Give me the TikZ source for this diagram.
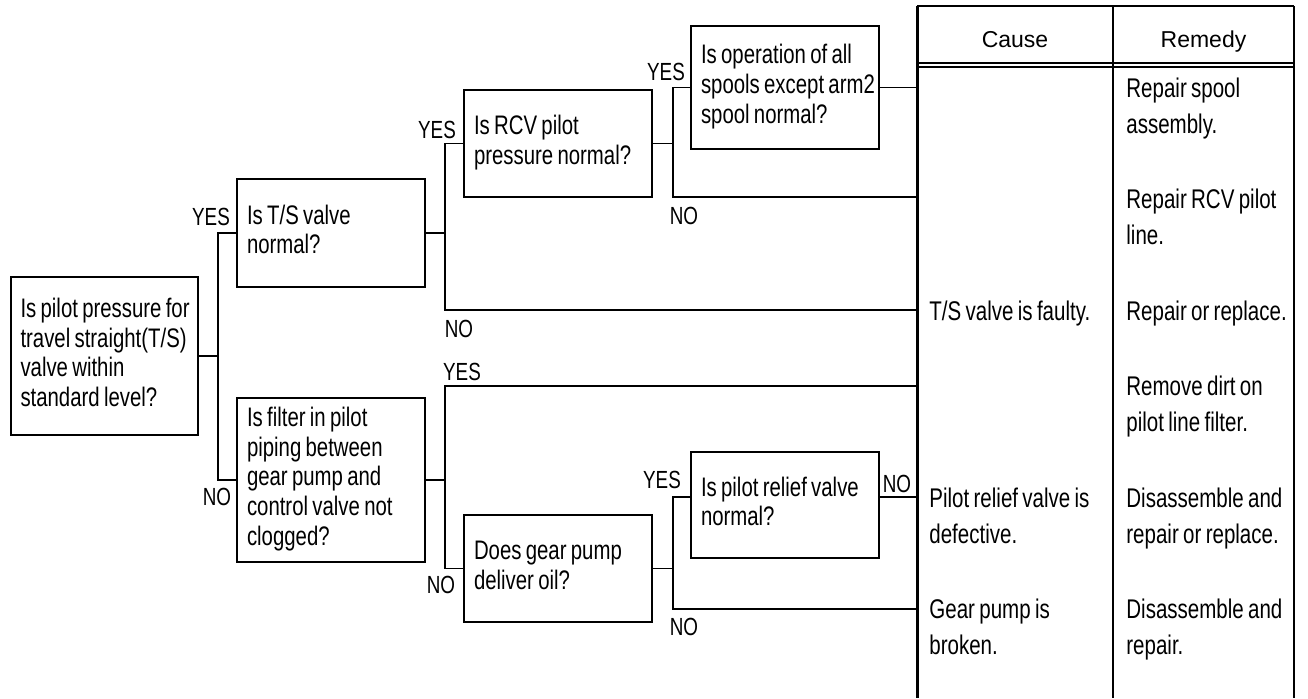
\documentclass[tikz,border=0pt]{standalone}
\usepackage{fontspec}
\setmainfont[FakeStretch=0.76,WordSpace=0.76]{Liberation Sans}
\newfontfamily\hdrfont{Liberation Sans}
\usetikzlibrary{calc}
\newcommand{\qlines}[1]{\spaceskip=0pt\xspaceskip=0pt\relax\begin{tabular}{@{}l@{}}#1\end{tabular}}
\begin{document}
\begin{tikzpicture}[x=0.5pt,y=-0.5pt,
  qbox/.style={draw, line width=1pt, rectangle, minimum width=94pt, text width=84pt,
    align=left, inner sep=0pt, font=\fontsize{13.4pt}{14.8pt}\selectfont},
  lbl/.style={inner sep=0pt, font=\fontsize{12.4pt}{13pt}\selectfont},
  cell/.style={inner sep=0pt, anchor=north west, align=left,
    font=\fontsize{13.5pt}{18.25pt}\selectfont},
  hdr/.style={inner sep=0pt, anchor=base, font=\hdrfont\fontsize{11.5pt}{14pt}\selectfont},
  wire/.style={line width=0.65pt},
]
\useasboundingbox (0,0) rectangle (1308,698);

% question boxes
\node[qbox, minimum width=93.5pt, minimum height=79pt] (main) at (104.5,356)
  {\qlines{Is pilot pressure for\\travel straight(T/S)\\valve within\\standard level?}};
\node[qbox, minimum height=54pt] (ts) at (331,233) {\qlines{Is T/S valve\\normal?}};
\node[qbox, minimum height=82pt] (filt) at (331,480)
  {\qlines{Is filter in pilot\\piping between\\gear pump and\\control valve not\\clogged?}};
\node[qbox, minimum height=53.5pt] (rcv) at (558,143.5) {\qlines{Is RCV pilot\\pressure normal?}};
\node[qbox, minimum height=61.5pt] (spool) at (785,87.5)
  {\qlines{Is operation of all\\spools except arm2\\spool normal?}};
\node[qbox, minimum height=53.5pt] (gear) at (558,568.5) {\qlines{Does gear pump\\deliver oil?}};
\node[qbox, minimum height=53pt] (relief) at (785,505) {\qlines{Is pilot relief valve\\normal?}};

% table frame
\coordinate (tl) at (917,6);
\coordinate (tm) at (1113,6);
\coordinate (tr) at (1294,6);
\coordinate (bl) at (917,698);
\coordinate (bm) at (1113,698);
\coordinate (br) at (1294,698);
\draw[line width=0.8pt] (tl) -- (tr);
\draw[line width=1.5pt] (tl) -- (bl);
\draw[line width=0.65pt] (tm) -- (bm);
\draw[line width=1pt] (tr) -- (br);
\draw[line width=0.6pt] (917,63) -- (1294,63);
\draw[line width=0.6pt] (917,67) -- (1294,67);

\coordinate (c2) at (917,197);
\coordinate (c3) at (917,310);
\coordinate (c4) at (917,386);
\coordinate (c6) at (917,609);

% connectors
\draw[wire] (main.east) -- ++(19,0) coordinate (j1);
\draw[wire] (ts.west) -| (j1) |- (filt.west);
\draw[wire] (ts.east) -- ++(19,0) coordinate (j2);
\draw[wire] (rcv.west) -| (j2) |- (c3);
\draw[wire] (rcv.east) -- ++(20,0) coordinate (j3);
\draw[wire] (spool.west) -| (j3) |- (c2);
\draw[wire] (spool.east) -- (spool.east -| tl);
\draw[wire] (filt.east) -- ++(19,0) coordinate (j4);
\draw[wire] (c4) -| (j4) |- (gear.west);
\draw[wire] (gear.east) -- ++(20,0) coordinate (j5);
\coordinate (rin) at ($(relief.west)+(0,-8)$);
\coordinate (rout) at ($(relief.east)+(0,-8)$);
\draw[wire] (rin) -| (j5) |- (c6);
\draw[wire] (rout) -- (rout -| tl);

% branch labels
\node[lbl] (y1) at (211,217) {YES};
\node[lbl] (n1) at (217,497) {NO};
\node[lbl] (y2) at (437,130) {YES};
\node[lbl] (n2) at (459,329) {NO};
\node[lbl] (y3) at (666,72) {YES};
\node[lbl] (n3) at (684,216) {NO};
\node[lbl] (y4) at (462,372) {YES};
\node[lbl] (n4) at (441,585) {NO};
\node[lbl] (y5) at (662,480) {YES};
\node[lbl] (n5) at (684,627) {NO};
\node[lbl] (n6) at (897,484) {NO};

% header
\node[hdr] (hc) at (1015,47) {Cause};
\node[hdr] (hr) at (1203.5,47) {Remedy};

% cells
\node[cell] (r1) at (1126,71.5) {\qlines{Repair spool\\assembly.}};
\node[cell] (r2) at (1126,182.5) {\qlines{Repair RCV pilot\\line.}};
\node[cell] (k3) at (929,294.5) {\qlines{T/S valve is faulty.}};
\node[cell] (r3) at (1126,294.5) {\qlines{Repair or replace.}};
\node[cell] (r4) at (1126,369.5) {\qlines{Remove dirt on\\pilot line filter.}};
\node[cell] (k5) at (929,481.5) {\qlines{Pilot relief valve is\\defective.}};
\node[cell] (r5) at (1126,481.5) {\qlines{Disassemble and\\repair or replace.}};
\node[cell] (k6) at (929,592.5) {\qlines{Gear pump is\\broken.}};
\node[cell] (r6) at (1126,592.5) {\qlines{Disassemble and\\repair.}};
\end{tikzpicture}
\end{document}
